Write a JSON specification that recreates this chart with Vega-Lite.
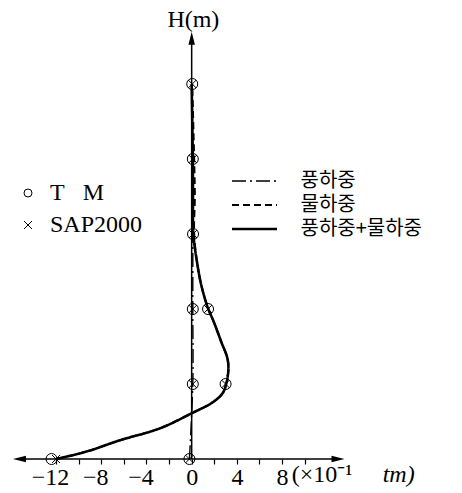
{
  "$schema": "https://vega.github.io/schema/vega-lite/v6.json",
  "width": 462,
  "height": 493,
  "autosize": {"type": "none"},
  "padding": 0,
  "background": "white",
  "config": {
    "view": {"stroke": null},
    "font": "Liberation Serif",
    "legend": {"labelColor": "black", "padding": 0}
  },
  "datasets": {
    "lines": [
      {"load": "풍하중", "H": 0, "M": -0.2},
      {"load": "풍하중", "H": 1, "M": 0.1},
      {"load": "풍하중", "H": 2, "M": 0.1},
      {"load": "풍하중", "H": 3, "M": 0.1},
      {"load": "풍하중", "H": 4, "M": 0.08},
      {"load": "풍하중", "H": 5, "M": 0.03},
      {"load": "물하중", "H": 0, "M": -12.0},
      {"load": "물하중", "H": 0.1, "M": -9.3},
      {"load": "물하중", "H": 0.25, "M": -6.35},
      {"load": "물하중", "H": 0.41, "M": -2.8},
      {"load": "물하중", "H": 0.61, "M": 0},
      {"load": "물하중", "H": 0.76, "M": 1.9},
      {"load": "물하중", "H": 0.88, "M": 2.75},
      {"load": "물하중", "H": 1.0, "M": 3.05},
      {"load": "물하중", "H": 1.2, "M": 3.25},
      {"load": "물하중", "H": 1.35, "M": 3.15},
      {"load": "물하중", "H": 1.55, "M": 2.65},
      {"load": "물하중", "H": 1.85, "M": 1.9},
      {"load": "물하중", "H": 2.0, "M": 1.47},
      {"load": "물하중", "H": 2.3, "M": 0.88},
      {"load": "물하중", "H": 2.6, "M": 0.5},
      {"load": "물하중", "H": 3.0, "M": 0.22},
      {"load": "물하중", "H": 3.5, "M": 0.28},
      {"load": "물하중", "H": 4.0, "M": 0.22},
      {"load": "물하중", "H": 5.0, "M": 0.05},
      {"load": "풍하중+물하중", "H": 0, "M": -12.0},
      {"load": "풍하중+물하중", "H": 0.1, "M": -9.3},
      {"load": "풍하중+물하중", "H": 0.25, "M": -6.35},
      {"load": "풍하중+물하중", "H": 0.41, "M": -2.8},
      {"load": "풍하중+물하중", "H": 0.61, "M": 0},
      {"load": "풍하중+물하중", "H": 0.76, "M": 1.9},
      {"load": "풍하중+물하중", "H": 0.88, "M": 2.75},
      {"load": "풍하중+물하중", "H": 1.0, "M": 3.05},
      {"load": "풍하중+물하중", "H": 1.2, "M": 3.25},
      {"load": "풍하중+물하중", "H": 1.35, "M": 3.15},
      {"load": "풍하중+물하중", "H": 1.55, "M": 2.65},
      {"load": "풍하중+물하중", "H": 1.85, "M": 1.9},
      {"load": "풍하중+물하중", "H": 2.0, "M": 1.47},
      {"load": "풍하중+물하중", "H": 2.3, "M": 0.88},
      {"load": "풍하중+물하중", "H": 2.6, "M": 0.5},
      {"load": "풍하중+물하중", "H": 3.0, "M": 0.15},
      {"load": "풍하중+물하중", "H": 3.5, "M": 0.12},
      {"load": "풍하중+물하중", "H": 4.0, "M": 0.1},
      {"load": "풍하중+물하중", "H": 5.0, "M": 0.0}
    ],
    "markers": [
      {"method": "T M", "H": 0, "M": -12.4},
      {"method": "T M", "H": 0, "M": -0.2},
      {"method": "T M", "H": 1, "M": 3.0},
      {"method": "T M", "H": 1, "M": 0.1},
      {"method": "T M", "H": 2, "M": 1.45},
      {"method": "T M", "H": 2, "M": 0.1},
      {"method": "T M", "H": 3, "M": 0.12},
      {"method": "T M", "H": 4, "M": 0.1},
      {"method": "T M", "H": 5, "M": 0.05},
      {"method": "SAP2000", "H": 0, "M": -12.0},
      {"method": "SAP2000", "H": 0, "M": -0.2},
      {"method": "SAP2000", "H": 1, "M": 3.0},
      {"method": "SAP2000", "H": 1, "M": 0.1},
      {"method": "SAP2000", "H": 2, "M": 1.45},
      {"method": "SAP2000", "H": 2, "M": 0.1},
      {"method": "SAP2000", "H": 3, "M": 0.12},
      {"method": "SAP2000", "H": 4, "M": 0.1},
      {"method": "SAP2000", "H": 5, "M": 0.05}
    ]
  },
  "layer": [
    {
      "data": {"name": "lines"},
      "mark": {"type": "line", "interpolate": "catmull-rom", "color": "black"},
      "encoding": {
        "x": {
          "field": "M", "type": "quantitative",
          "scale": {"domain": [-16.96, 23.92], "nice": false, "zero": false},
          "axis": {
            "orient": "bottom", "offset": -34, "domain": false, "grid": false,
            "values": [-12, -10, -8, -6, -4, -2, 0, 2, 4, 6, 8, 10],
            "labelExpr": "datum.value % 4 == 0 ? datum.label : ''",
            "tickSize": 5, "tickColor": "black", "tickWidth": 1.2,
            "labelFont": "Liberation Serif", "labelFontSize": 24, "labelColor": "black",
            "labelPadding": 1, "labelOverlap": false, "labelFlush": false,
            "labelOffset": {"condition": {"test": "datum.value < 0", "value": -6}, "value": 0},
            "title": null
          }
        },
        "y": {
          "field": "H", "type": "quantitative",
          "scale": {"domain": [-0.453, 6.12], "nice": false, "zero": false},
          "axis": null
        },
        "order": {"field": "H"},
        "strokeDash": {
          "field": "load", "type": "nominal",
          "scale": {"domain": ["풍하중", "물하중", "풍하중+물하중"], "range": [[14, 4, 2, 4], [7, 4], [1, 0]]},
          "legend": {
            "orient": "none", "legendX": 244.5, "legendY": 171, "title": null,
            "symbolType": "M-3,0L3,0", "symbolSize": 225, "symbolStrokeWidth": 1.5,
            "symbolStrokeColor": "black", "labelFont": "Noto Sans CJK KR", "labelFontSize": 20,
            "labelOffset": 36, "rowPadding": 4
          }
        },
        "strokeWidth": {
          "field": "load", "type": "nominal",
          "scale": {"domain": ["풍하중", "물하중", "풍하중+물하중"], "range": [1.4, 2.6, 2.2]},
          "legend": null
        }
      }
    },
    {
      "data": {"name": "markers"},
      "transform": [{"filter": "datum.method == 'T M'"}],
      "mark": {"type": "point", "filled": false, "color": "black", "strokeWidth": 1, "opacity": 1, "size": 121},
      "encoding": {
        "x": {"field": "M", "type": "quantitative"},
        "y": {"field": "H", "type": "quantitative"},
        "shape": {
          "field": "method", "type": "nominal",
          "scale": {"domain": ["T M", "SAP2000"], "range": ["circle", "M-1,-1L1,1M-1,1L1,-1"]},
          "legend": {
            "orient": "none", "legendX": 16, "legendY": 181, "title": null,
            "symbolStrokeColor": "black", "symbolFillColor": "transparent", "symbolStrokeWidth": 1,
            "symbolSize": 64,
            "labelExpr": "datum.label == 'T M' ? 'T\u00a0\u00a0\u00a0M' : datum.label",
            "labelFont": "Liberation Serif", "labelFontSize": 24, "labelOffset": 10, "rowPadding": 8
          }
        }
      }
    },
    {
      "data": {"name": "markers"},
      "transform": [{"filter": "datum.method == 'SAP2000'"}],
      "mark": {"type": "point", "filled": false, "color": "black", "strokeWidth": 1, "opacity": 1, "size": 64},
      "encoding": {
        "x": {"field": "M", "type": "quantitative"},
        "y": {"field": "H", "type": "quantitative"},
        "shape": {"field": "method", "type": "nominal"}
      }
    },
    {
      "data": {"values": [{}]},
      "mark": {"type": "rule", "color": "black", "strokeWidth": 1.5},
      "encoding": {"x": {"datum": -15.24}, "x2": {"datum": 12.95}, "y": {"datum": 0}}
    },
    {
      "data": {"values": [{}]},
      "mark": {"type": "rule", "color": "black", "strokeWidth": 1.5},
      "encoding": {"x": {"datum": 0}, "y": {"datum": 0}, "y2": {"datum": 5.61}}
    },
    {
      "data": {"values": [{}]},
      "mark": {"type": "point", "shape": "M0,-1L-0.5,1L0.5,1Z", "filled": true, "color": "black", "opacity": 1, "size": 169, "angle": 0},
      "encoding": {"x": {"datum": 0}, "y": {"datum": 5.61}}
    },
    {
      "data": {"values": [{}]},
      "mark": {"type": "point", "shape": "M0,-1L-0.5,1L0.5,1Z", "filled": true, "color": "black", "opacity": 1, "size": 169, "angle": 270},
      "encoding": {"x": {"datum": -15.24}, "y": {"datum": 0}}
    },
    {
      "data": {"values": [{}]},
      "mark": {"type": "point", "shape": "M0,-1L-0.5,1L0.5,1Z", "filled": true, "color": "black", "opacity": 1, "size": 169, "angle": 90},
      "encoding": {"x": {"datum": 12.95}, "y": {"datum": 0}}
    },
    {
      "data": {"values": [{}]},
      "mark": {"type": "text", "font": "Liberation Serif", "fontSize": 24, "color": "black", "align": "center", "baseline": "middle"},
      "encoding": {"x": {"datum": 0.15}, "y": {"datum": 5.85}, "text": {"value": "H(m)"}}
    },
    {
      "data": {"values": [{}]},
      "mark": {"type": "text", "font": "Liberation Serif", "fontSize": 24, "color": "black", "align": "left", "baseline": "middle"},
      "encoding": {"x": {"datum": 8.85}, "y": {"datum": -0.21}, "text": {"value": "(×10⁻¹"}}
    },
    {
      "data": {"values": [{}]},
      "mark": {"type": "text", "font": "Liberation Serif", "fontSize": 24, "fontStyle": "italic", "color": "black", "align": "left", "baseline": "middle"},
      "encoding": {"x": {"datum": 16.9}, "y": {"datum": -0.21}, "text": {"value": "tm)"}}
    }
  ]
}
